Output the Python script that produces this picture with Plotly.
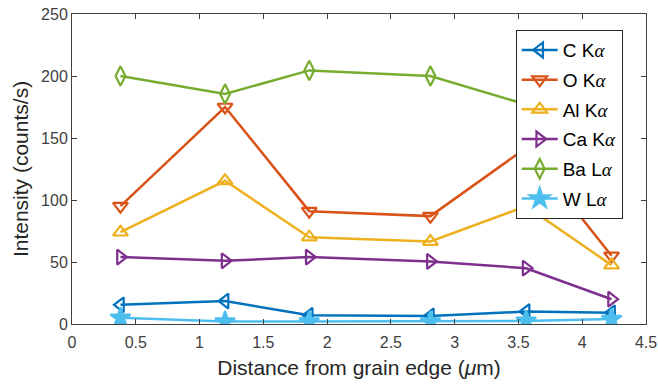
import plotly.graph_objects as go

x = [0.38, 1.2, 1.86, 2.81, 3.56, 4.23]
c_ka = [15.5, 18.5, 7, 6.5, 10, 9]
o_ka = [95, 175, 91, 87, 142, 55]
al_ka = [74, 115.5, 70, 66.5, 95, 47.5]
ca_ka = [54, 51, 54, 50.5, 45, 20]
ba_la = [200, 185.5, 204.5, 200, 177, 170]
w_la = [5, 2, 2, 2, 2.5, 4]

names = ["C K", "O K", "Al K", "Ca K", "Ba L", "W L"]
series = [c_ka, o_ka, al_ka, ca_ka, ba_la, w_la]
colors = ["#0072BD", "#D95319", "#EDB120", "#7E2F8E", "#77AC30", "#4DBEEE"]
symbols = ["triangle-left-open", "triangle-down-open", "triangle-up-open",
           "triangle-right-open", "diamond-tall-open", "star"]
sizes = [13, 13, 13, 13, 14, 15]

alpha = "<i><span style=\"font-family:'Liberation Serif', serif\">α</span></i>"

fig = go.Figure()
for i, (nm, ys, col, sym, sz) in enumerate(zip(names, series, colors, symbols, sizes)):
    fig.add_trace(go.Scatter(
        x=x, y=ys, mode="lines+markers",
        name=nm + alpha,
        legendgroup="g%d" % i,
        line=dict(color=col, width=2.5),
        marker=dict(symbol=sym, size=sz, color=col, line=dict(color=col, width=2.2)),
    ))

axcol = "#404040"
fig.update_layout(
    width=658, height=385,
    margin=dict(l=72, r=12, t=14, b=61),
    paper_bgcolor="white", plot_bgcolor="white",
    font=dict(family="Liberation Sans, Arial, sans-serif", color="#262626"),
    showlegend=True,
    legend=dict(
        x=0.773, y=0.948, xanchor="left", yanchor="top",
        bgcolor="white", bordercolor="#262626", borderwidth=1,
        font=dict(size=19, color="black"),
        tracegroupgap=2, itemwidth=36,
    ),
    xaxis=dict(
        range=[0, 4.5], tickvals=[0, 0.5, 1, 1.5, 2, 2.5, 3, 3.5, 4, 4.5],
        ticktext=["0", "0.5", "1", "1.5", "2", "2.5", "3", "3.5", "4", "4.5"],
        showgrid=False, zeroline=False, showline=True, linecolor=axcol, linewidth=1,
        mirror="ticks", ticks="inside", ticklen=5, tickcolor=axcol,
        tickfont=dict(size=16, color="#404040"), automargin=False,
        ticklabelstandoff=4,
        title=dict(text="Distance from grain edge (<i>μ</i>m)", font=dict(size=21, color="#262626"), standoff=10),
    ),
    yaxis=dict(
        range=[0, 250], tickvals=[0, 50, 100, 150, 200, 250],
        showgrid=False, zeroline=False, showline=True, linecolor=axcol, linewidth=1,
        mirror="ticks", ticks="inside", ticklen=5, tickcolor=axcol,
        tickfont=dict(size=16, color="#404040"), automargin=False,
        title=dict(text="Intensity (counts/s)", font=dict(size=21, color="#262626"), standoff=6),
    ),
)

fig.write_html("out.html")
